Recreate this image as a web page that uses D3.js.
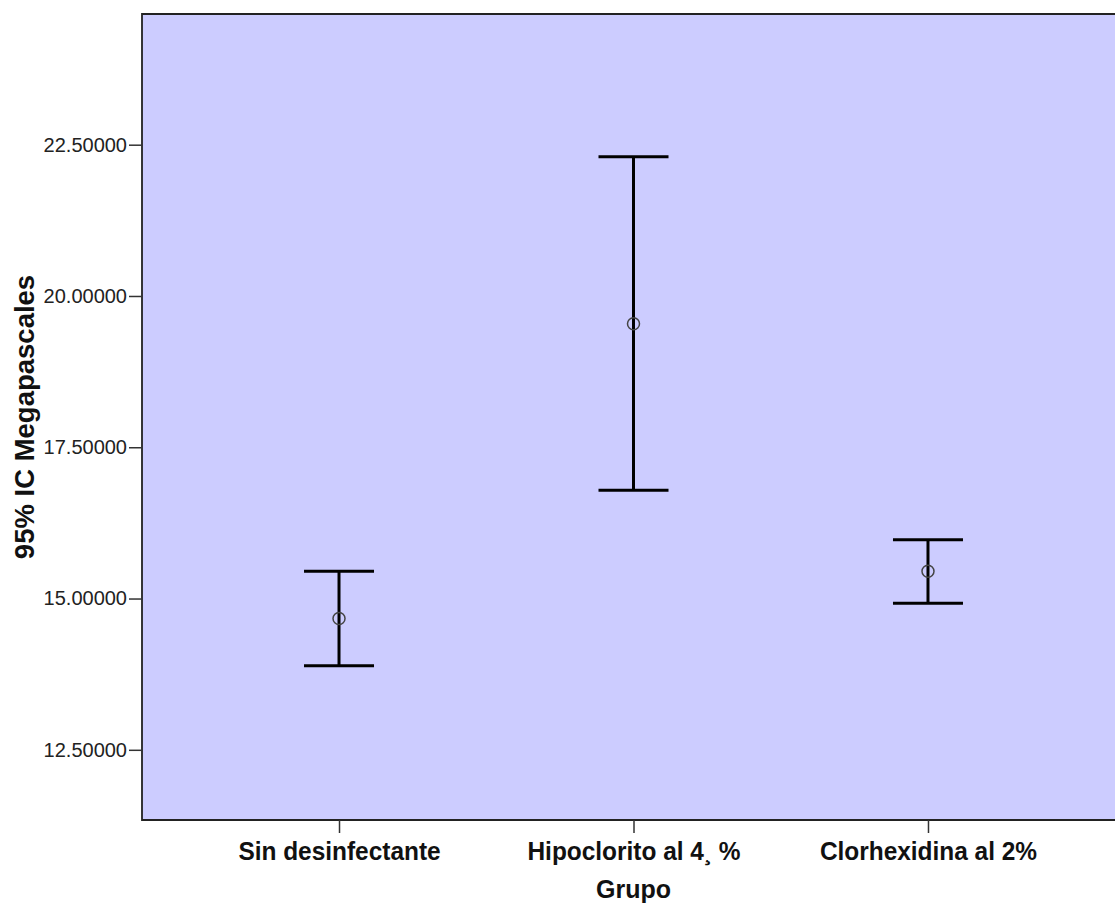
<!DOCTYPE html>
<html lang="es">
<head>
<meta charset="UTF-8">
<title>95% IC Megapascales por Grupo</title>
<script src="https://d3js.org/d3.v7.min.js"></script>
<style>
  body { margin: 0; background: #fff; }
  .y.axis text { font-family: "Liberation Sans", Arial, sans-serif; font-size: 20px; fill: #222; }
  .x.axis text { font-family: "Liberation Sans", Arial, sans-serif; font-weight: bold; font-size: 26px; fill: #111; }
  .title { font-family: "Liberation Sans", Arial, sans-serif; font-weight: bold; font-size: 25px; fill: #111; }
</style>
</head>
<body>
<script>
var categories = ["Sin desinfectante", "Hipoclorito al 4\u00b8 %", "Clorhexidina al 2%"];
var means = [14.67, 19.54, 15.45];
var lower = [13.89, 16.79, 14.92];
var upper = [15.45, 22.30, 15.97];
var yTicks = [12.5, 15, 17.5, 20, 22.5];

var W = 1115, H = 904;
var margin = {top: 14, left: 142, bottom: 84, right: -10};
var width = W - margin.left - margin.right;
var height = H - margin.top - margin.bottom;

var data = categories.map(function(c, i) {
  return {key: c, mean: means[i], lo: lower[i], hi: upper[i]};
});

var x = d3.scalePoint().domain(categories).range([0, width]).padding(0.669);
var y = d3.scaleLinear().domain([11.34, 24.66]).range([height, 0]);

var svg = d3.select("body").append("svg")
  .attr("width", W).attr("height", H);

var chart = svg.append("g")
  .attr("transform", "translate(" + margin.left + "," + margin.top + ")");

chart.append("rect")
  .attr("x", 0).attr("y", 0)
  .attr("width", width).attr("height", height)
  .attr("fill", "#ccccff");

// frame: top, left, bottom
chart.append("path")
  .attr("d", "M" + width + ",0H0V" + height + "H" + width)
  .attr("fill", "none").attr("stroke", "#222").attr("stroke-width", 1.8);

var yAxis = d3.axisLeft(y).tickValues(yTicks).tickSize(13).tickPadding(2)
  .tickFormat(d3.format(".5f"));
var gy = chart.append("g").classed("y axis", true).call(yAxis);
gy.select(".domain").remove();
gy.selectAll("line").attr("stroke", "#333").attr("stroke-width", 1.5);

var xAxis = d3.axisBottom(x).tickSize(13).tickPadding(9);
var gx = chart.append("g").classed("x axis", true)
  .attr("transform", "translate(0," + height + ")").call(xAxis);
gx.select(".domain").remove();
gx.selectAll("line").attr("stroke", "#333").attr("stroke-width", 1.5);
// narrow the bold labels a little, like the condensed face in the original
gx.selectAll("text").attr("transform", "scale(0.94,1)");

// error bars
var capHalf = 35;
var bars = chart.selectAll(".bar").data(data).enter().append("g").classed("bar", true);
bars.append("line")
  .attr("x1", function(d) { return x(d.key); })
  .attr("x2", function(d) { return x(d.key); })
  .attr("y1", function(d) { return y(d.hi); })
  .attr("y2", function(d) { return y(d.lo); })
  .attr("stroke", "#000").attr("stroke-width", 3);
bars.append("line")
  .attr("x1", function(d) { return x(d.key) - capHalf; })
  .attr("x2", function(d) { return x(d.key) + capHalf; })
  .attr("y1", function(d) { return y(d.hi); })
  .attr("y2", function(d) { return y(d.hi); })
  .attr("stroke", "#000").attr("stroke-width", 3);
bars.append("line")
  .attr("x1", function(d) { return x(d.key) - capHalf; })
  .attr("x2", function(d) { return x(d.key) + capHalf; })
  .attr("y1", function(d) { return y(d.lo); })
  .attr("y2", function(d) { return y(d.lo); })
  .attr("stroke", "#000").attr("stroke-width", 3);
bars.append("circle")
  .attr("cx", function(d) { return x(d.key); })
  .attr("cy", function(d) { return y(d.mean); })
  .attr("r", 6)
  .attr("fill", "none").attr("stroke", "#444").attr("stroke-width", 1.5);

// axis titles
svg.append("text").classed("title", true)
  .attr("x", margin.left + x(categories[1])).attr("y", 898)
  .attr("text-anchor", "middle").text("Grupo");
svg.append("text").classed("title", true)
  .style("font-size", "27.5px")
  .attr("transform", "translate(34,417) rotate(-90)")
  .attr("text-anchor", "middle").text("95% IC Megapascales");
</script>
</body>
</html>
